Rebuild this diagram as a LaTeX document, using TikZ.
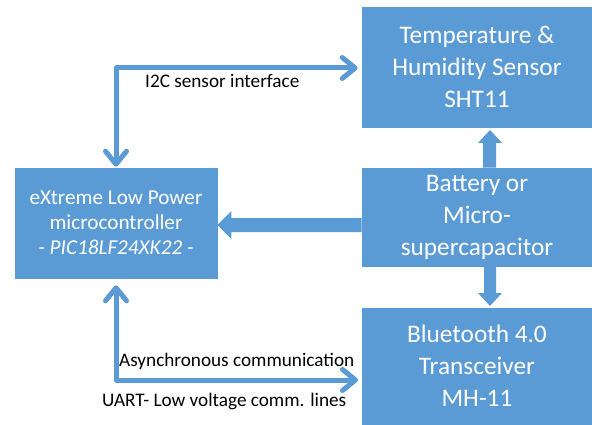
\documentclass[tikz,border=0pt]{standalone}
\usepackage{fontspec}
\setmainfont{Carlito}
\usetikzlibrary{arrows.meta,calc}
\definecolor{blu}{HTML}{5B9BD5}
\tikzset{
  box/.style={fill=blu, draw=blu, line width=0.6pt, text=white, align=center, inner sep=0pt},
  bigtxt/.style={font=\fontsize{25.3}{32}\selectfont},
  midtxt/.style={font=\fontsize{21.2}{25}\selectfont},
  conn/.style={draw=blu, line width=5pt, line cap=round, line join=round,
    {Straight Barb[length=13pt,width=21pt,round]}-{Straight Barb[length=13pt,width=21pt,round]}},
  lbl/.style={font=\fontsize{19.2}{22}\selectfont, text=black, inner sep=0pt},
  blk/.style={fill=blu}
}
\begin{document}
\begin{tikzpicture}[x=1pt,y=-1pt]
\useasboundingbox (0,0) rectangle (592,425);
\node[box, bigtxt, minimum width=230pt, minimum height=120pt] (temp) at (477,67) {Temperature \&\\Humidity Sensor\\SHT11};
\node[box, bigtxt, minimum width=230pt, minimum height=98pt] (bat) at (477,217) {Battery or\\Micro-\\supercapacitor};
\node[box, bigtxt, minimum width=230pt, minimum height=116pt] (bt) at (477,366) {Bluetooth 4.0\\Transceiver\\MH-11};
\node[box, midtxt, minimum width=202pt, minimum height=110pt] (mcu) at (116,223) {eXtreme Low Power\\microcontroller\\\textit{- PIC18LF24XK22 -}};
% block arrow battery -> mcu
\fill[blk] (bat.west |- 0,218) -- ($(mcu.east |- 0,218)+(14,0)$) -- ($(mcu.east |- 0,211)+(14,0)$)
  -- (mcu.east |- 0,225) -- ($(mcu.east |- 0,239)+(14,0)$) -- ($(mcu.east |- 0,232)+(14,0)$)
  -- (bat.west |- 0,232) -- cycle;
% block arrow battery -> temp
\fill[blk] (483,0 |- bat.north) -- (483,143) -- (478,143) -- (490,130) -- (502,143) -- (496,143) -- (496,0 |- bat.north) -- cycle;
% block arrow battery -> bluetooth
\fill[blk] (484,0 |- bat.south) -- (484,293) -- (478,293) -- (490,306) -- (502,293) -- (496,293) -- (496,0 |- bat.south) -- cycle;
% I2C connector
\coordinate (i2cend) at ($(temp.west)+(-4,1)$);
\draw[conn] ($(mcu.north)+(0,-1)$) |- (i2cend);
% UART connector
\coordinate (uartstart) at ($(mcu.south)+(0,7)$);
\coordinate (uartend) at (358,380);
\draw[conn] (uartstart) |- (uartend);
\node[lbl, anchor=base west] (l1) at (145,88) {I2C sensor interface};
\node[lbl, anchor=base west] (l2) at (119,366) {Asynchronous communication};
\node[lbl, anchor=base west] (l3) at (102,406) {UART- Low voltage comm. lines};
\end{tikzpicture}
\end{document}
